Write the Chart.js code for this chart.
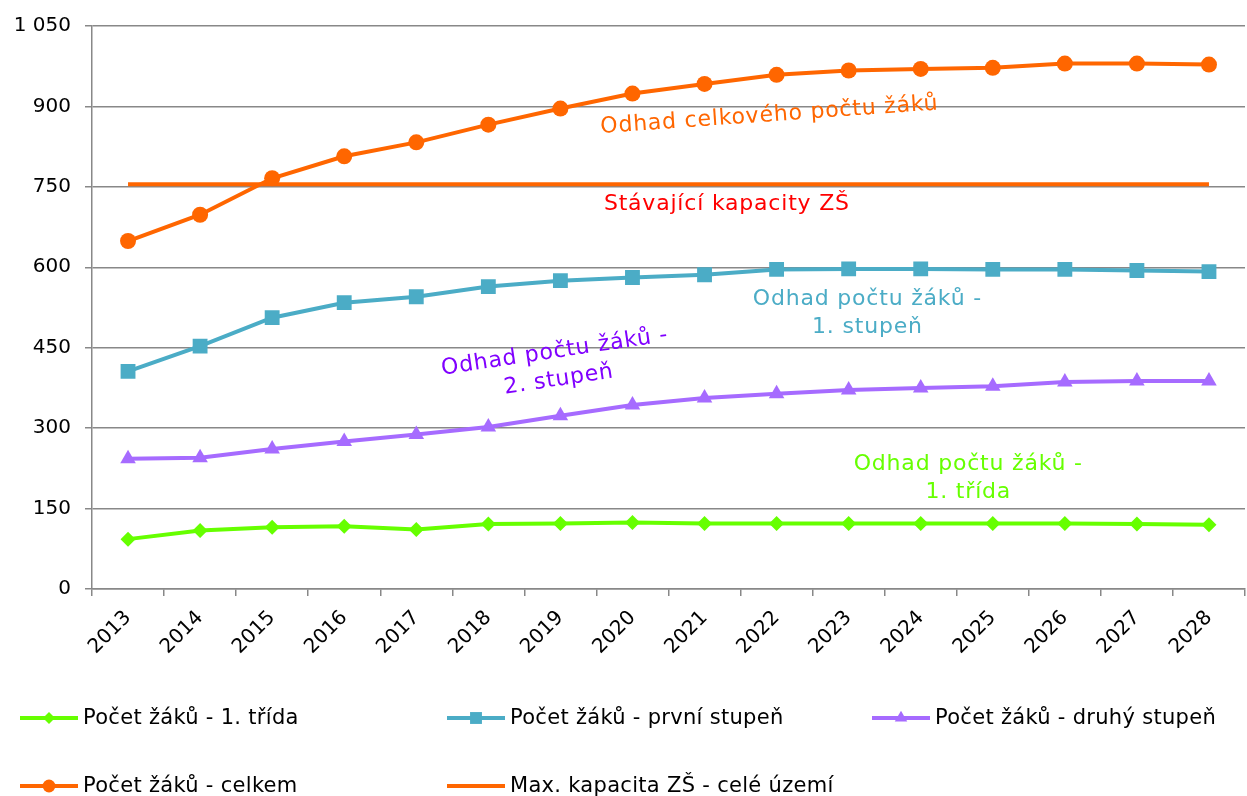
<!DOCTYPE html>
<html>
<head>
<meta charset="utf-8">
<script src="https://cdn.jsdelivr.net/npm/chart.js@4.4.1/dist/chart.umd.min.js"></script>
<style>
  html, body { margin: 0; padding: 0; background: #fff; }
  #wrap { width: 1247px; height: 796px; }
</style>
</head>
<body>
<div id="wrap"><canvas id="graf" width="1247" height="796"></canvas></div>
<script>
// roky
var roky = ['2013', '2014', '2015', '2016', '2017', '2018', '2019', '2020',
            '2021', '2022', '2023', '2024', '2025', '2026', '2027', '2028'];

// odhady poctu zaku
var prvniTrida = [93, 109, 115, 117, 111, 121, 122, 124, 122, 122, 122, 122, 122, 122, 121, 120];
var prvniStupen = [406, 453, 506, 534, 545, 564, 575, 581, 586, 596, 597, 597, 596, 596, 594, 592];
var druhyStupen = [243, 245, 261, 275, 288, 302, 323, 343, 356, 364, 371, 375, 378, 386, 388, 388];
var celkem = [649, 698, 766, 807, 833, 866, 896, 924, 942, 959, 967, 970, 972, 980, 980, 978];
var kapacita = [755, 755, 755, 755, 755, 755, 755, 755, 755, 755, 755, 755, 755, 755, 755, 755];

var nazvy = ['Počet žáků - 1. třída', 'Počet žáků - první stupeň', 'Počet žáků - druhý stupeň',
             'Počet žáků - celkem', 'Max. kapacita ZŠ - celé území'];

// popisky v grafu: [text, barva, index roku, hodnota, natoceni]
var popisky = [
  [['Odhad celkového počtu žáků'], '#ff6600', 8.9, 883, -4],
  [['Stávající kapacity ZŠ'], '#ff0000', 8.31, 717, 0],
  [['Odhad počtu žáků -', '1. stupeň'], '#4bacc6', 10.26, 514, 0],
  [['Odhad počtu žáků -', '2. stupeň'], '#8000ff', 5.95, 416, -8.5],
  [['Odhad počtu žáků -', '1. třída'], '#66ff00', 11.66, 206, 0]
];

var FONT = 'DejaVu Sans, Verdana, sans-serif';

var popiskyPlugin = {
  id: 'popisky',
  afterDatasetsDraw: function(chart) {
    var ctx = chart.ctx, x = chart.scales.x, y = chart.scales.y;
    ctx.save();
    ctx.font = '22px ' + FONT;
    ctx.letterSpacing = '0.8px';
    ctx.textAlign = 'center';
    ctx.textBaseline = 'middle';
    popisky.forEach(function(p) {
      var px = x.getPixelForValue(p[2]);
      var py = y.getPixelForValue(p[3]);
      ctx.save();
      ctx.translate(px, py);
      ctx.rotate(p[4] * Math.PI / 180);
      ctx.fillStyle = p[1];
      var lh = 28;
      p[0].forEach(function(t, i) {
        ctx.fillText(t, 0, (i - (p[0].length - 1) / 2) * lh);
      });
      ctx.restore();
    });
    ctx.restore();
  }
};

var legendaPlugin = {
  id: 'legenda',
  afterDraw: function(chart) {
    var ctx = chart.ctx;
    var sloupce = [20, 447, 872];
    var radky = [718, 786];
    ctx.save();
    ctx.font = '21px ' + FONT;
    ctx.letterSpacing = '0.3px';
    ctx.textBaseline = 'middle';
    ctx.textAlign = 'left';
    chart.data.datasets.forEach(function(ds, i) {
      var lx = sloupce[i % 3], ly = radky[Math.floor(i / 3)];
      ctx.strokeStyle = ds.borderColor;
      ctx.lineWidth = 4;
      ctx.beginPath();
      ctx.moveTo(lx, ly);
      ctx.lineTo(lx + 58, ly);
      ctx.stroke();
      if (ds.pointStyle && ds.pointRadius > 0) {
        ctx.fillStyle = ds.backgroundColor;
        Chart.helpers.drawPoint(ctx, {
          pointStyle: ds.pointStyle,
          radius: ds.pointRadius * 0.8,
          rotation: 0,
          borderWidth: 0
        }, lx + 29, ly);
      }
      ctx.fillStyle = '#000';
      ctx.fillText(ds.label, lx + 63, ly + 1);
    });
    ctx.restore();
  }
};

function rada(label, data, barva, styl, r) {
  return {
    label: label,
    data: data,
    borderColor: barva,
    backgroundColor: barva,
    borderWidth: 4,
    pointStyle: styl,
    pointRadius: r,
    pointBorderWidth: 0,
    pointHoverRadius: r,
    tension: 0
  };
}

var ctx = document.getElementById('graf').getContext('2d');
var chart = new Chart(ctx, {
  type: 'line',
  data: {
    labels: roky,
    datasets: [
      rada(nazvy[0], prvniTrida, '#66ff00', 'rectRot', 7.5),
      rada(nazvy[1], prvniStupen, '#4bacc6', 'rect', 10.5),
      rada(nazvy[2], druhyStupen, '#a66bff', 'triangle', 9),
      rada(nazvy[3], celkem, '#ff6600', 'circle', 8),
      rada(nazvy[4], kapacita, '#ff6600', false, 0)
    ]
  },
  options: {
    responsive: false,
    animation: false,
    layout: { autoPadding: false, padding: { top: 23, right: 2, left: 0, bottom: 0 } },
    plugins: {
      legend: { display: false },
      tooltip: { enabled: false }
    },
    scales: {
      x: {
        offset: true,
        afterFit: function(s) { s.height = 207; },
        grid: {
          offset: true,
          drawOnChartArea: false,
          drawTicks: true,
          tickLength: 7,
          color: '#888',
          lineWidth: 1.5
        },
        border: { color: '#888', width: 1.5 },
        ticks: {
          minRotation: 45,
          maxRotation: 45,
          padding: 10,
          color: '#000',
          font: { family: FONT, size: 20 }
        }
      },
      y: {
        min: 0,
        max: 1050,
        afterFit: function(s) { s.width = 92; },
        grid: {
          color: '#888',
          lineWidth: 1.5,
          drawTicks: true,
          tickLength: 7
        },
        border: { color: '#888', width: 1.5 },
        ticks: {
          stepSize: 150,
          padding: 14,
          color: '#000',
          font: { family: FONT, size: 20 },
          callback: function(v) {
            return String(v).replace(/\B(?=(\d{3})+(?!\d))/g, ' ');
          }
        }
      }
    }
  },
  plugins: [popiskyPlugin, legendaPlugin]
});
</script>
</body>
</html>
